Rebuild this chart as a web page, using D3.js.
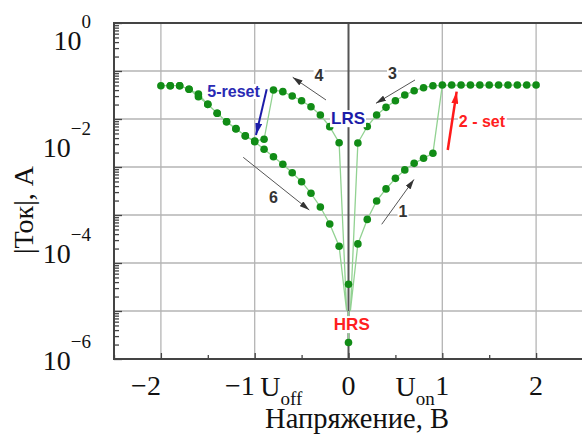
<!DOCTYPE html>
<html>
<head>
<meta charset="utf-8">
<script src="https://d3js.org/d3.v7.min.js"></script>
<style>
  body { margin: 0; background: #fff; }
  svg { display: block; }
  .serif { font-family: "Liberation Serif", "Times New Roman", serif; fill: #111; }
  .note { font-family: "Liberation Sans", Arial, sans-serif; font-weight: bold; }
</style>
</head>
<body>
<svg id="chart" width="582" height="434"></svg>
<script>
// sweep 1: HRS, 0 -> +0.9 V
const set1V = [0.1, 0.2, 0.3, 0.4, 0.5, 0.6, 0.7, 0.8, 0.9];
const set1I = [2.5e-5, 8.1e-5, 1.96e-4, 3.5e-4, 5.8e-4, 8.7e-4, 1.19e-3, 1.52e-3, 1.93e-3];
// compliance plateau after set
const plateauV = [1.0, 1.1, 1.2, 1.3, 1.4, 1.5, 1.6, 1.7, 1.8, 1.9, 2.0];
const plateauI = [0.051, 0.051, 0.051, 0.051, 0.051, 0.051, 0.051, 0.051, 0.051, 0.051, 0.051];
// sweep 3: LRS, +2 -> 0
const lrs3V = [0.9, 0.8, 0.7, 0.6, 0.5, 0.4, 0.3, 0.2, 0.1];
const lrs3I = [0.0494, 0.0449, 0.0389, 0.0316, 0.024, 0.0175, 0.0121, 0.00698, 0.00316];
// sweep 4: LRS 0 -> -0.8, reset at -0.9, then on to -2 V
const lrs4V = [-0.1, -0.2, -0.3, -0.4, -0.5, -0.6, -0.7, -0.8, -0.9, -1.0,
               -1.1, -1.2, -1.3, -1.4, -1.5, -1.6, -1.7, -1.8, -1.9, -2.0];
const lrs4I = [0.00321, 0.00692, 0.0121, 0.018, 0.024, 0.0301, 0.0371, 0.0402, 0.00378, 0.00348,
               0.00449, 0.00619, 0.00879, 0.01315, 0.0202, 0.0332, 0.0416, 0.0494, 0.0494, 0.0494];
// sweep 6: HRS, -2 -> 0
const hrs6V = [-1.9, -1.8, -1.7, -1.6, -1.5, -1.4, -1.3, -1.2, -1.1, -1.0,
               -0.9, -0.8, -0.7, -0.6, -0.5, -0.4, -0.3, -0.2, -0.1];
const hrs6I = [0.0494, 0.0494, 0.0416, 0.0292, 0.0202, 0.01315, 0.00879, 0.00634, 0.00443, 0.00337,
               0.00234, 0.00164, 0.00114, 7.6e-4, 4.94e-4, 2.83e-4, 1.47e-4, 6.5e-5, 2.23e-5];
// points measured at 0 V
const zeroV = [0, 0];
const zeroI = [3.6e-6, 2.2e-7];
// where the branches meet near 0 V (line only)
const meetV = [-0.02, 0.02];
const meetI = 1e-6;

const xTicks = [-2, -1, 0, 1, 2];
const xMinor = [-2.5, -1.5, -0.5, 0.5, 1.5, 2.5];
const yExp = [0, -2, -4, -6];      // printed labels 10^n
const yDecades = [1, 1e-1, 1e-2, 1e-3, 1e-4, 1e-5, 1e-6, 1e-7];

const svg = d3.select('#chart');
const m = { left: 114, top: 23, right: 583, bottom: 359 };

const x = d3.scaleLinear().domain([-2.5, 2.5]).range([m.left, m.right]);
const y = d3.scaleLog().domain([1, 1e-7]).range([m.top, m.bottom]);
// the printed 10^n labels sit on their own spacing in the original
const yLab = d3.scaleLinear().domain([0, -6]).range([50, 370]);

const zip = (vs, is) => vs.map((v, i) => [v, is[i]]);

// grid
const grid = svg.append('g');
grid.selectAll('.hg').data(yDecades.slice(1, -1)).join('line')
  .attr('x1', m.left).attr('x2', m.right)
  .attr('y1', d => y(d)).attr('y2', d => y(d))
  .attr('stroke', '#b4b4b4').attr('stroke-width', 1.3);
grid.selectAll('.vg').data(xTicks).join('line')
  .attr('x1', d => x(d)).attr('x2', d => x(d))
  .attr('y1', m.top).attr('y2', m.bottom)
  .attr('stroke', d => d === 0 ? '#555' : '#b4b4b4')
  .attr('stroke-width', d => d === 0 ? 2 : 1.3);

// axes (ticks inward)
const minorY = [];
yDecades.slice(1).forEach(d => { for (let k = 2; k <= 9; k++) minorY.push(d * k); });

svg.append('g').attr('transform', `translate(${m.left},0)`)
  .call(d3.axisRight(y).tickValues(yDecades).tickSize(8).tickFormat(''))
  .call(g => g.select('.domain').remove());
svg.append('g').attr('transform', `translate(${m.left},0)`)
  .call(d3.axisRight(y).tickValues(minorY).tickSize(5).tickFormat(''))
  .call(g => g.select('.domain').remove());
svg.append('g').attr('transform', `translate(0,${m.bottom})`)
  .call(d3.axisTop(x).tickValues(xTicks).tickSize(6).tickFormat(''))
  .call(g => g.select('.domain').remove());
svg.append('g').attr('transform', `translate(0,${m.bottom})`)
  .call(d3.axisTop(x).tickValues(xMinor).tickSize(4).tickFormat(''))
  .call(g => g.select('.domain').remove());
svg.selectAll('.tick line').attr('stroke', '#444').attr('stroke-width', 1.3);

// frame
svg.append('path')
  .attr('d', `M${m.right},${m.top}H${m.left}V${m.bottom}H${m.right}V${m.top}`)
  .attr('fill', 'none').attr('stroke', '#444').attr('stroke-width', 2);

// curves
const line = d3.line().x(d => x(d[0])).y(d => y(d[1]));
const pathA = [[meetV[1], meetI], ...zip(set1V, set1I), ...zip(plateauV, plateauI), ...zip(lrs3V, lrs3I), [meetV[1], meetI]];
const pathB = [[meetV[0], meetI], ...zip(lrs4V, lrs4I), ...zip(hrs6V, hrs6I), [meetV[0], meetI]];
const stem = [[zeroV[1], zeroI[1]], [0, meetI]];
svg.append('g').selectAll('path').data([pathA, pathB, stem]).join('path')
  .attr('d', line).attr('fill', 'none')
  .attr('stroke', '#92d292').attr('stroke-width', 1.3);

const dots = [...zip(set1V, set1I), ...zip(plateauV, plateauI), ...zip(lrs3V, lrs3I),
              ...zip(lrs4V, lrs4I), ...zip(hrs6V, hrs6I), ...zip(zeroV, zeroI)];
svg.append('g').selectAll('circle').data(dots).join('circle')
  .attr('cx', d => x(d[0])).attr('cy', d => y(d[1])).attr('r', 3.8)
  .attr('fill', '#118c16');

// arrow markers
const defs = svg.append('defs');
function marker(id, color, len, wid) {
  defs.append('marker').attr('id', id)
    .attr('viewBox', `0 0 ${len} ${wid}`).attr('refX', len).attr('refY', wid / 2)
    .attr('markerWidth', len).attr('markerHeight', wid)
    .attr('markerUnits', 'userSpaceOnUse').attr('orient', 'auto')
    .append('path').attr('d', `M0,0L${len},${wid / 2}L0,${wid}Z`).attr('fill', color);
}
marker('ah-k', '#333', 10, 6);
marker('ah-b', '#1c1ca8', 12, 7);
marker('ah-r', '#ff1a1a', 12, 7);

const arrows = [
  { from: [-0.24, 0.0249], to: [-0.595, 0.0739], c: '#555', w: 1, m: 'ah-k' },
  { from: [0.709, 0.065], to: [0.293, 0.0212], c: '#555', w: 1, m: 'ah-k' },
  { from: [-1.122, 0.00159], to: [-0.418, 1.27e-4], c: '#555', w: 1, m: 'ah-k' },
  { from: [0.354, 6.4e-5], to: [0.698, 5.5e-4], c: '#555', w: 1, m: 'ah-k' },
  { from: [-0.872, 0.0416], to: [-0.986, 0.00464], c: '#1c1ca8', w: 2, m: 'ah-b' },
  { from: [1.058, 0.00226], to: [1.153, 0.0371], c: '#ff1a1a', w: 2.5, m: 'ah-r' }
];

// labels with white backing
const notes = [
  { t: 'LRS', v: -0.005, i: 0.0078, c: '#1c1ca8', s: 17 },
  { t: 'HRS', v: 0.035, i: 4.0e-7, c: '#ff2020', s: 17 },
  { t: '5-reset', v: -1.225, i: 0.0287, c: '#2a2ab4', s: 16 },
  { t: '2 - set', v: 1.423, i: 0.0068, c: '#ff2020', s: 16 },
  { t: '4', v: -0.314, i: 0.0628, c: '#333', s: 16 },
  { t: '3', v: 0.469, i: 0.068, c: '#333', s: 16 },
  { t: '6', v: -0.8, i: 1.78e-4, c: '#333', s: 16 },
  { t: '1', v: 0.581, i: 9.1e-5, c: '#333', s: 16 }
];
const ng = svg.append('g');
notes.forEach(n => {
  const t = ng.append('text').attr('class', 'note')
    .attr('x', x(n.v)).attr('y', y(n.i)).attr('text-anchor', 'middle')
    .attr('font-size', n.s).attr('fill', n.c).text(n.t);
  const b = t.node().getBBox();
  ng.insert('rect', () => t.node())
    .attr('x', b.x - 1).attr('y', b.y + 1).attr('width', b.width + 2).attr('height', b.height - 2)
    .attr('fill', '#fff');
});

svg.append('g').selectAll('line').data(arrows).join('line')
  .attr('x1', d => x(d.from[0])).attr('y1', d => y(d.from[1]))
  .attr('x2', d => x(d.to[0])).attr('y2', d => y(d.to[1]))
  .attr('stroke', d => d.c).attr('stroke-width', d => d.w)
  .attr('marker-end', d => `url(#${d.m})`);

// y labels 10^n
const yl = svg.append('g');
yExp.forEach(e => {
  const t = yl.append('text').attr('class', 'serif')
    .attr('x', 91).attr('y', yLab(e)).attr('text-anchor', 'end').attr('font-size', 28);
  t.append('tspan').text('10');
  t.append('tspan').attr('dy', -22).attr('font-size', 19).text(e === 0 ? '0' : '\u2212' + (-e));
});

// x labels
svg.append('g').selectAll('text').data(xTicks).join('text')
  .attr('class', 'serif').attr('font-size', 28)
  .attr('x', d => x(d)).attr('y', 395)
  .attr('text-anchor', d => d < 0 ? 'end' : 'middle')
  .text(d => d < 0 ? '\u2212' + (-d) : d);

// U_off, U_on
const uLabels = [{ v: -0.94, sub: 'off' }, { v: 0.5, sub: 'on' }];
uLabels.forEach(u => {
  const t = svg.append('text').attr('class', 'serif')
    .attr('x', x(u.v)).attr('y', 396).attr('font-size', 28);
  t.append('tspan').text('U');
  t.append('tspan').attr('dy', 9).attr('font-size', 19).text(u.sub);
});

// titles
svg.append('text').attr('class', 'serif')
  .attr('x', 357).attr('y', 428).attr('text-anchor', 'middle').attr('font-size', 28.5)
  .text('Напряжение, В');
svg.append('text').attr('class', 'serif')
  .attr('transform', 'translate(33,210) rotate(-90)').attr('text-anchor', 'middle').attr('font-size', 28)
  .text('|Ток|, А');
</script>
</body>
</html>
